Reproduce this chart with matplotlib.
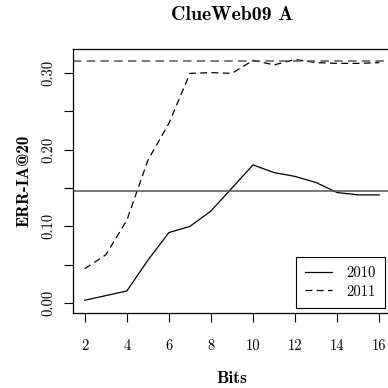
import matplotlib
matplotlib.use("Agg")
import matplotlib.pyplot as plt

bits = [2, 3, 4, 5, 6, 7, 8, 9, 10, 11, 12, 13, 14, 15, 16]
err_2010 = [0.004, 0.010, 0.016, 0.056, 0.092, 0.100, 0.120, 0.150, 0.180, 0.170, 0.165, 0.157, 0.144, 0.141, 0.141]
err_2011 = [0.045, 0.063, 0.108, 0.186, 0.234, 0.299, 0.300, 0.299, 0.316, 0.310, 0.317, 0.313, 0.312, 0.312, 0.313]
ref_2010 = 0.146
ref_2011 = 0.315
xticks = [2, 4, 6, 8, 10, 12, 14, 16]
yticks = [0.00, 0.05, 0.10, 0.15, 0.20, 0.25, 0.30]
ylabels = ["0.00", "", "0.10", "", "0.20", "", "0.30"]

plt.rcParams['font.family'] = ['cmr10', 'DejaVu Serif']
plt.rcParams['axes.formatter.use_mathtext'] = True

W = H = 388
fig = plt.figure(figsize=(3.88, 3.88), dpi=100)
l, r, t, b = 73, 391, 49.3, 313.3
ax = fig.add_axes([l / W, 1 - b / H, (r - l) / W, (b - t) / H])

dash = (0, (5.5, 3.5))
ax.plot(bits, err_2010, color='black', lw=0.9, label='2010')
ax.plot(bits, err_2011, color='black', lw=0.9, linestyle=dash, label='2011')
ax.axhline(ref_2010, color='#555555', lw=1.1)
ax.axhline(ref_2011, color='#555555', lw=1.1, linestyle=dash)

ax.set_xlim(1.44, 16.56)
ax.set_ylim(-0.0130, 0.3303)
ax.set_xticks(xticks)
ax.set_xticklabels([str(v) for v in xticks])
ax.set_yticks(yticks)
ax.set_yticklabels(ylabels, rotation=90, va='center')
ax.tick_params(axis='both', direction='out', length=6.5, width=0.8, labelsize=10.5, color='black')
ax.tick_params(axis='x', pad=12)
ax.tick_params(axis='y', pad=6)
for s in ax.spines.values():
    s.set_linewidth(0.9)
    s.set_color('black')

bold = ['cmb10', 'DejaVu Serif']
renderer = fig.canvas.get_renderer()


def fit_text(x, y, s, target, rotation=0):
    txt = fig.text(x / W, 1 - y / H, s, family=bold, fontsize=10, ha='center', va='center', rotation=rotation)
    bb = txt.get_window_extent(renderer)
    cur = bb.height if rotation else bb.width
    txt.set_fontsize(10 * target / cur)
    return txt


fit_text(232, 14.5, 'ClueWeb09 A', 122.6)
fit_text(232, 378.5, 'Bits', 30.6)
fit_text(24, 181, 'ERR-IA@20', 91.7, rotation=90)

leg = ax.legend(loc='lower right', bbox_to_anchor=((385 - l) / (r - l), (b - 308) / (b - t)),
                borderaxespad=0, fancybox=False, edgecolor='black', framealpha=1,
                fontsize=10.5, handlelength=1.85, handletextpad=0.95, borderpad=0.65, labelspacing=0.35)
leg.get_frame().set_linewidth(0.8)

fig.savefig('out.png', dpi=100)
